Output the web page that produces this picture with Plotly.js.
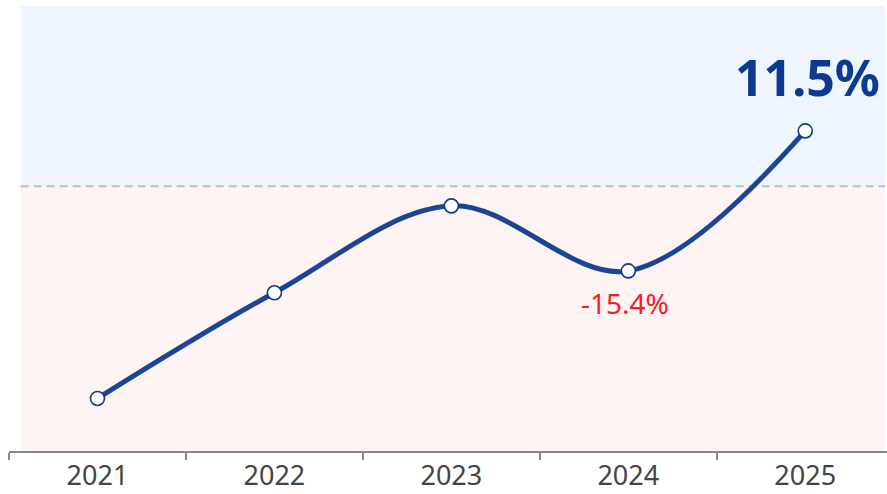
<!DOCTYPE html>
<html>
<head>
<meta charset="utf-8">
<script src="https://cdn.plot.ly/plotly-3.0.1.min.js"></script>
<style>html,body{margin:0;padding:0;background:#fff;}#chart{width:887px;height:494px;}</style>
</head>
<body>
<div id="chart"></div>
<script>
const years = ["2021", "2022", "2023", "2024", "2025"];
const growth = [-39.9, -19.6, -2.9, -15.4, 11.5];
const referenceLevel = 0.85;
const labelledIdx = [3, 4];

const lineColor = "#1d4595";
const font = "Noto Sans, Roboto, Arial, sans-serif";

const trace = {
  x: years,
  y: growth,
  type: "scatter",
  mode: "lines+markers",
  line: {color: lineColor, width: 5, shape: "spline", smoothing: 1},
  marker: {size: 14, color: "#ffffff", line: {color: "#0d3a8c", width: 1.6}},
  hoverinfo: "skip"
};

const xLo = -0.434, xHi = 4.451;
const shapes = [
  {type: "rect", xref: "x", yref: "y", x0: xLo, x1: xHi, y0: referenceLevel, y1: 35.5,
   fillcolor: "#eff5fe", line: {width: 0}, layer: "below"},
  {type: "rect", xref: "x", yref: "y", x0: xLo, x1: xHi, y0: -50, y1: referenceLevel,
   fillcolor: "#fef4f4", line: {width: 0}, layer: "below"},
  {type: "line", xref: "x", yref: "y", x0: xLo, x1: xHi, y0: referenceLevel, y1: referenceLevel,
   line: {color: "#bdbdbd", width: 2, dash: "8px,5px"}, layer: "below"}
];

const hi = labelledIdx[1], lo = labelledIdx[0];
const annotations = [
  {x: hi, y: growth[hi], xref: "x", yref: "y", text: growth[hi].toFixed(1) + "%",
   showarrow: false, yanchor: "bottom", xanchor: "center", xshift: 2, yshift: 18,
   font: {family: font, size: 50, color: "#0b3a8e", weight: 700}},
  {x: lo, y: growth[lo], xref: "x", yref: "y", text: growth[lo].toFixed(1) + "%",
   showarrow: false, yanchor: "top", xanchor: "center", xshift: -3, yshift: -11,
   font: {family: font, size: 28, color: "#ff1a1a"}}
];

const layout = {
  width: 887, height: 494,
  margin: {l: 9, r: 0, t: 6, b: 43},
  paper_bgcolor: "#ffffff",
  plot_bgcolor: "rgba(0,0,0,0)",
  showlegend: false,
  xaxis: {
    type: "category",
    range: [-0.5, 4.462],
    tickson: "boundaries",
    ticks: "outside", ticklen: 7, tickwidth: 1.5, tickcolor: "#888888",
    showline: true, linecolor: "#888888", linewidth: 2,
    showgrid: false, zeroline: false,
    tickfont: {family: font, size: 27, color: "#444444"}
  },
  yaxis: {
    range: [-50, 35.5],
    visible: false, showgrid: false, zeroline: false, fixedrange: true
  },
  shapes: shapes,
  annotations: annotations
};

Plotly.newPlot("chart", [trace], layout, {displayModeBar: false, staticPlot: true});
</script>
</body>
</html>
